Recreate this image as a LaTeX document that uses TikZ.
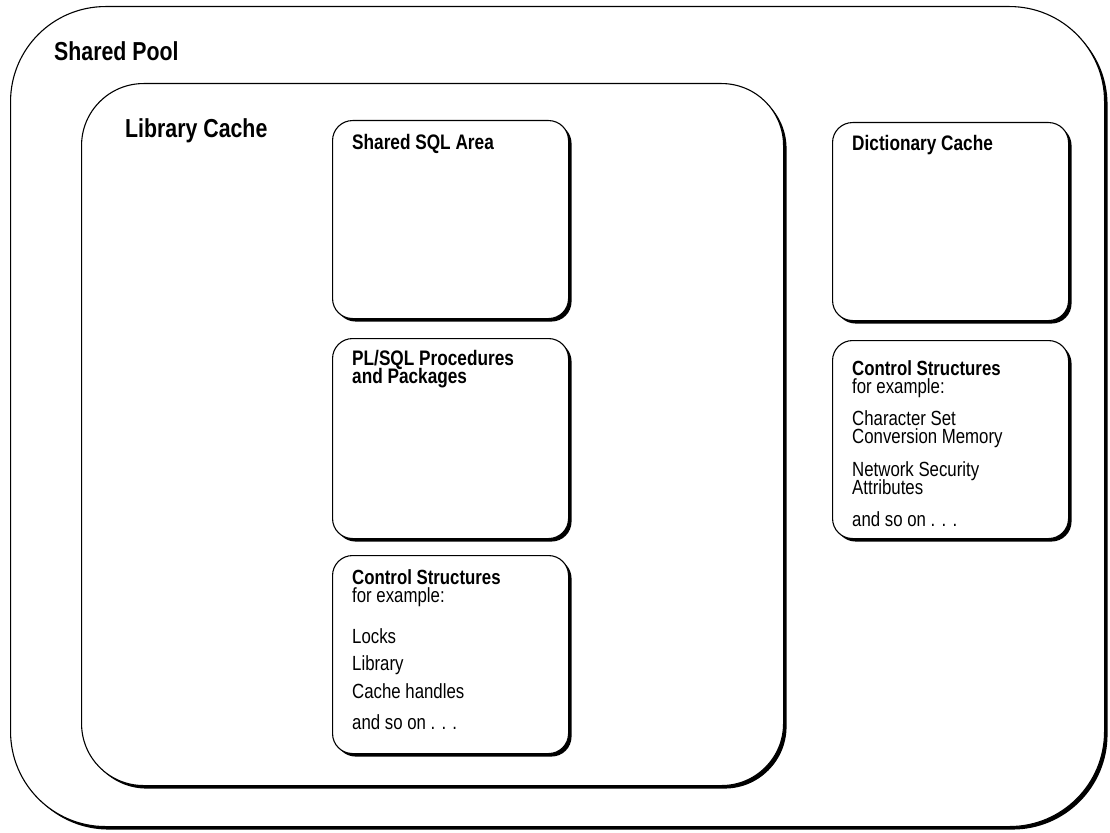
\documentclass[tikz,border=0pt]{standalone}
\usepackage{fontspec}
\setmainfont{Liberation Sans}[FakeStretch=0.82]
\usetikzlibrary{
  shadows
}
% keep the tight line spacing in the text boxes
\setlength{\lineskiplimit}{-20pt}

\begin{document}
\begin{tikzpicture}[x=1pt, y=-1pt,
  box/.style = {shape=rectangle, draw, line width=1.1pt, fill=white,
    anchor=north west,
    drop shadow={shadow xshift=3pt, shadow yshift=-3pt,
      opacity=1, fill=black}},
  area/.style = {box, rounded corners=20pt,
    minimum width=236pt, minimum height=198pt},
  big/.style = {anchor=base west, inner sep=0pt,
    font=\fontsize{26}{26}\selectfont\bfseries},
  head/.style = {anchor=north west, align=left, inner sep=0pt,
    font=\fontsize{21}{18}\selectfont\bfseries},
  note/.style = {anchor=north west, align=left, inner sep=0pt,
    font=\fontsize{20.5}{18}\selectfont}]
  \useasboundingbox (0,0) rectangle (1110,832);

  % the two pools
  \node[box, rounded corners=95pt,
    minimum width=1094pt, minimum height=820pt] (pool) at (10,6) {};
  \node[box, rounded corners=62pt,
    minimum width=702pt, minimum height=702pt] (lib) at (81,83) {};
  \node[big] (pooltitle) at (54,61) {Shared Pool};
  \node[big] (libtitle) at (125,137) {Library Cache};

  % library cache areas
  \node[area] (sql) at (332,120) {};
  \node[area, minimum height=200pt] (plsql) at (332,338) {};
  \node[area] (libctl) at (332,555) {};
  \node[head] (sqltitle) at (352,134) {Shared SQL Area};
  \node[head] (plsqltitle) at (352,350) {PL/SQL Procedures\\and Packages};
  \node[note] (libctltext) at (352,569) {\textbf{Control Structures}\\
    for example:\\[23pt]
    Locks\\[9pt]
    Library\\[10pt]
    Cache handles\\[13pt]
    and so on . . .};

  % dictionary cache side
  \node[area] (dict) at (832,122) {};
  \node[area] (dictctl) at (832,340) {};
  \node[head] (dicttitle) at (852,135) {Dictionary Cache};
  \node[note] (dictctltext) at (852,360) {\textbf{Control Structures}\\
    for example:\\[14pt]
    Character Set\\
    Conversion Memory\\[15pt]
    Network Security\\
    Attributes\\[14pt]
    and so on . . .};
\end{tikzpicture}
\end{document}
